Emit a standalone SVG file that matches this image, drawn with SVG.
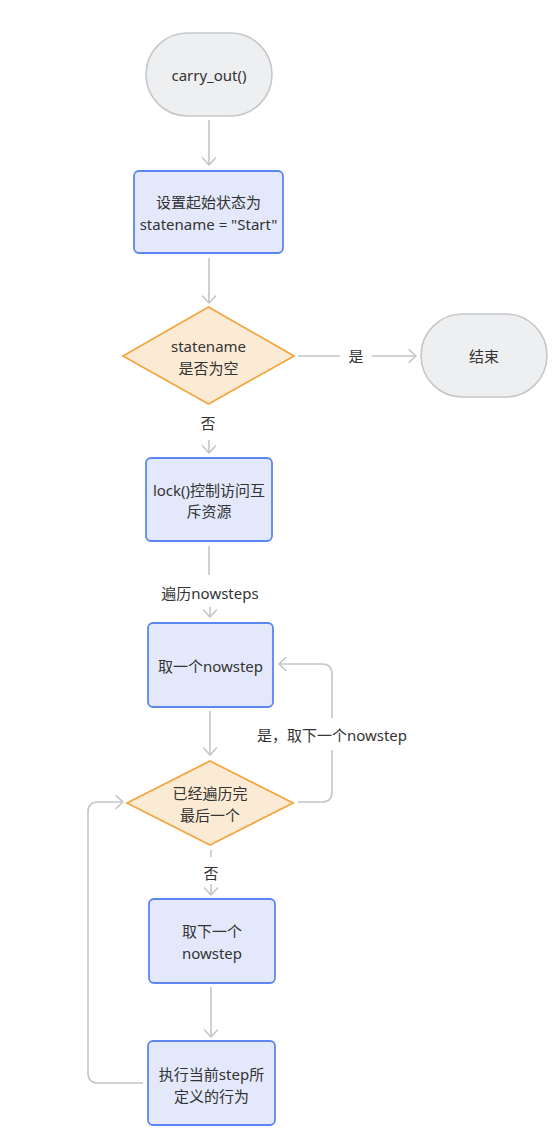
<svg xmlns="http://www.w3.org/2000/svg" width="560" height="1142" viewBox="0 0 560 1142">
<defs>
<marker id="arr" markerUnits="userSpaceOnUse" markerWidth="16" markerHeight="16" viewBox="-10 -8 12 16" refX="0" refY="0" orient="auto">
<path d="M-7,-6.5 L0,0 L-7,6.5" fill="none" stroke="#c3c5c9" stroke-width="1.6" stroke-linecap="round" stroke-linejoin="round"/>
</marker>
<style>
.term{fill:#eeeff1;stroke:#c6c7c9;stroke-width:1.6}
.box{fill:#e3e9fb;stroke:#5c86f2;stroke-width:1.8}
.dia{fill:#fcebd4;stroke:#f4a640;stroke-width:1.8}
.t{font-family:"Noto Sans","Noto Sans CJK SC",sans-serif;font-size:15px;fill:#333;text-anchor:middle;dominant-baseline:central}
.c{fill:none;stroke:#c3c5c9;stroke-width:1.6}
</style>
</defs>
<rect width="560" height="1142" fill="#ffffff"/>
<g id="connectors">
<line class="c" x1="209" y1="120" x2="209" y2="165" marker-end="url(#arr)"/>
<line class="c" x1="209" y1="258" x2="209" y2="303" marker-end="url(#arr)"/>
<line class="c" x1="298" y1="356" x2="340" y2="356"/>
<line class="c" x1="372" y1="356" x2="416" y2="356" marker-end="url(#arr)"/>
<line class="c" x1="209" y1="440" x2="209" y2="453" marker-end="url(#arr)"/>
<line class="c" x1="209" y1="546" x2="209" y2="575"/>
<line class="c" x1="210" y1="607" x2="210" y2="617" marker-end="url(#arr)"/>
<line class="c" x1="210" y1="711" x2="210" y2="755" marker-end="url(#arr)"/>
<path class="c" d="M298,802 H322 Q332,802 332,792 V750"/>
<path class="c" d="M332,718 V674 Q332,664 322,664 H279" marker-end="url(#arr)"/>
<line class="c" x1="211" y1="850" x2="211" y2="857"/>
<line class="c" x1="211" y1="884" x2="211" y2="895" marker-end="url(#arr)"/>
<line class="c" x1="211" y1="987" x2="211" y2="1037" marker-end="url(#arr)"/>
<path class="c" d="M143,1083 H98 Q88,1083 88,1073 V812 Q88,802 98,802 H123" marker-end="url(#arr)"/>
<text class="t" x="356" y="356">是</text>
<text class="t" x="208" y="423">否</text>
<text class="t" x="210" y="593">遍历nowsteps</text>
<text class="t" x="332" y="735">是，取下一个nowstep</text>
<text class="t" x="211" y="873">否</text>
</g>
<g id="start">
<rect class="term" x="146" y="33" width="126" height="83" rx="41.5"/>
<text class="t" x="209" y="75">carry_out()</text>
</g>
<g id="init">
<rect class="box" x="134" y="171" width="149" height="82" rx="5"/>
<text class="t" x="208.5" y="202">设置起始状态为</text>
<text class="t" x="208.5" y="224">statename = "Start"</text>
</g>
<g id="check_empty">
<polygon class="dia" points="208.5,307 294,356 208.5,404 123,356"/>
<text class="t" x="208.5" y="346">statename</text>
<text class="t" x="208.5" y="368">是否为空</text>
</g>
<g id="end">
<rect class="term" x="421" y="314" width="126" height="83" rx="41.5"/>
<text class="t" x="484" y="356">结束</text>
</g>
<g id="lock">
<rect class="box" x="146" y="458" width="126" height="83" rx="5"/>
<text class="t" x="209" y="490">lock()控制访问互</text>
<text class="t" x="209" y="511">斥资源</text>
</g>
<g id="take_one">
<rect class="box" x="148" y="623" width="125" height="84" rx="5"/>
<text class="t" x="210.5" y="666">取一个nowstep</text>
</g>
<g id="check_last">
<polygon class="dia" points="210,761 293,803 210,845 127,803"/>
<text class="t" x="210" y="793">已经遍历完</text>
<text class="t" x="210" y="815">最后一个</text>
</g>
<g id="take_next">
<rect class="box" x="149" y="899" width="126" height="84" rx="5"/>
<text class="t" x="212" y="931">取下一个</text>
<text class="t" x="212" y="953">nowstep</text>
</g>
<g id="execute">
<rect class="box" x="148" y="1041" width="127" height="84" rx="5"/>
<text class="t" x="211.5" y="1074">执行当前step所</text>
<text class="t" x="211.5" y="1096">定义的行为</text>
</g>
</svg>
